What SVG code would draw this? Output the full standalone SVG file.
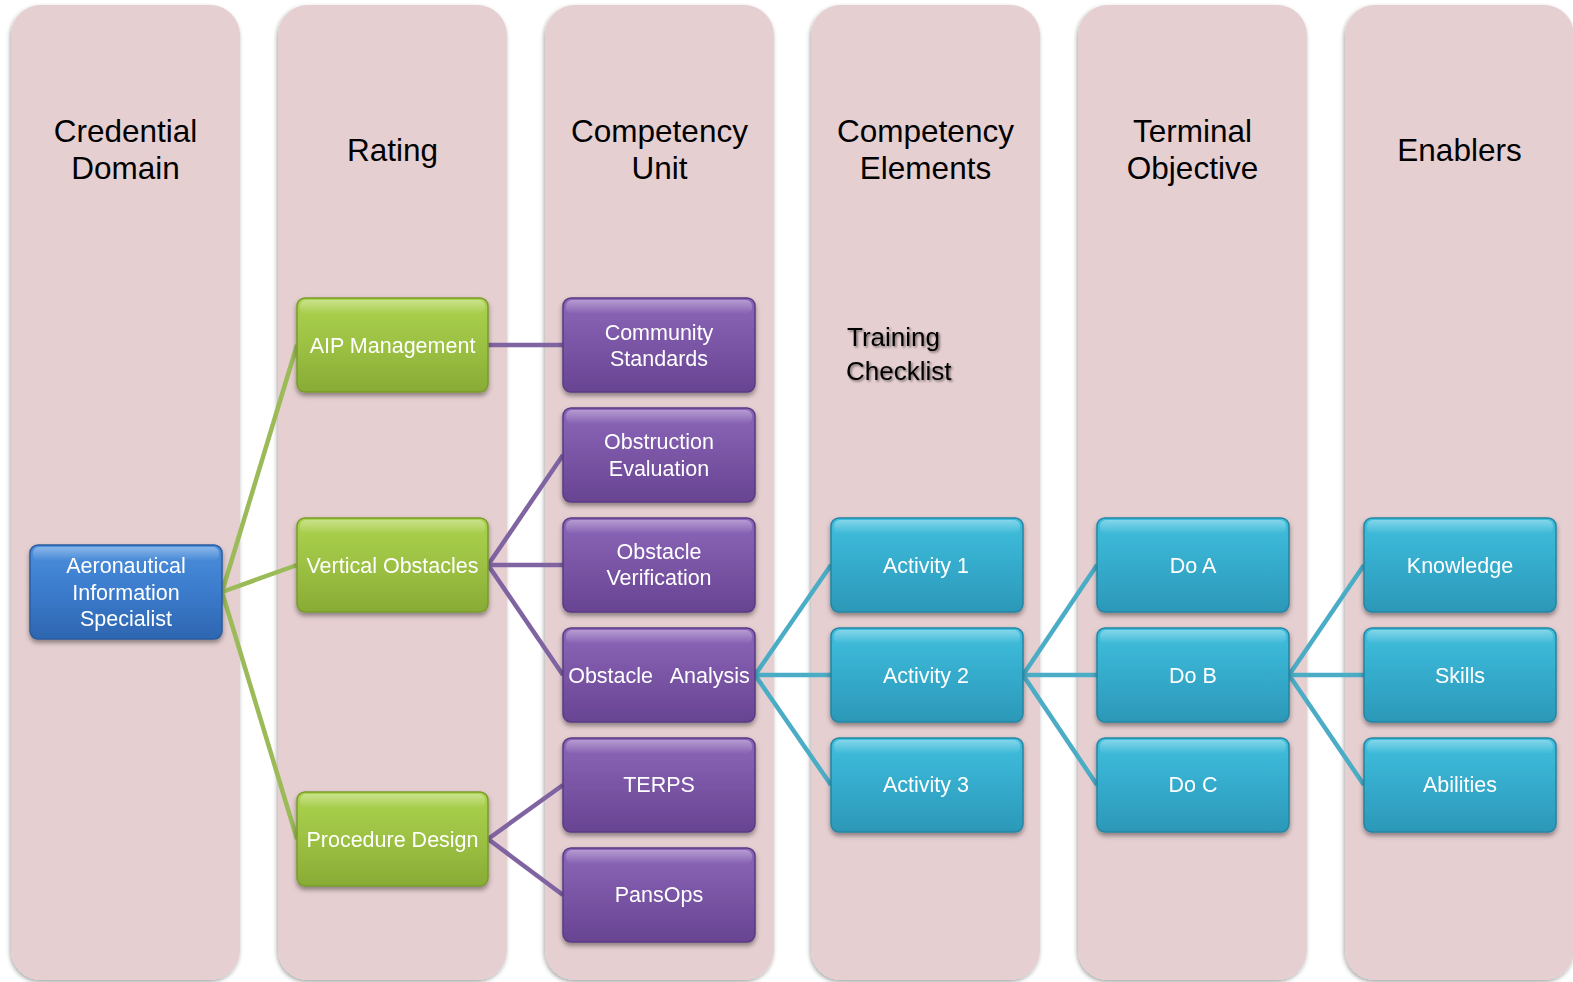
<svg xmlns="http://www.w3.org/2000/svg" width="1573" height="982" viewBox="0 0 1573 982">
<defs>
<filter id="colShadow" x="-10%" y="-5%" width="120%" height="110%">
<feDropShadow dx="-1" dy="2" stdDeviation="2" flood-color="#000" flood-opacity="0.35"/>
</filter>
<filter id="nodeShadow" x="-10%" y="-10%" width="120%" height="130%">
<feDropShadow dx="0" dy="3" stdDeviation="2.5" flood-color="#000" flood-opacity="0.4"/>
</filter>
<filter id="textShadow" x="-10%" y="-20%" width="130%" height="150%">
<feDropShadow dx="1.5" dy="1.5" stdDeviation="1.2" flood-color="#000" flood-opacity="0.5"/>
</filter>
<linearGradient id="gBlue" x1="0" y1="0" x2="0" y2="1">
<stop offset="0" stop-color="#4b8fdc"/>
<stop offset="0.5" stop-color="#3b7bcc"/>
<stop offset="1" stop-color="#2e66b0"/>
</linearGradient>
<linearGradient id="gGreen" x1="0" y1="0" x2="0" y2="1">
<stop offset="0" stop-color="#acd34e"/>
<stop offset="0.5" stop-color="#9cc143"/>
<stop offset="1" stop-color="#88ab35"/>
</linearGradient>
<linearGradient id="gPurple" x1="0" y1="0" x2="0" y2="1">
<stop offset="0" stop-color="#8d66b9"/>
<stop offset="0.5" stop-color="#7a55a5"/>
<stop offset="1" stop-color="#684493"/>
</linearGradient>
<linearGradient id="gCyan" x1="0" y1="0" x2="0" y2="1">
<stop offset="0" stop-color="#40c0de"/>
<stop offset="0.5" stop-color="#35abcc"/>
<stop offset="1" stop-color="#2c98b8"/>
</linearGradient>
<linearGradient id="gloss" x1="0" y1="0" x2="0" y2="1">
<stop offset="0" stop-color="#fff" stop-opacity="0.35"/>
<stop offset="1" stop-color="#fff" stop-opacity="0"/>
</linearGradient>
</defs>
<style>
.col{fill:#e6cfd1;filter:url(#colShadow)}
.hdr{font-family:"Liberation Sans",Arial,sans-serif;font-size:31.5px;fill:#000;text-anchor:middle}
.nt{font-family:"Liberation Sans",Arial,sans-serif;font-size:21.5px;fill:#fff;text-anchor:middle}
.node{filter:url(#nodeShadow)}
.blue{fill:url(#gBlue);stroke:#2a5c9e;stroke-width:1.5}
.green{fill:url(#gGreen);stroke:#7a9a2e;stroke-width:1.5}
.purple{fill:url(#gPurple);stroke:#5a3a82;stroke-width:1.5}
.cyan{fill:url(#gCyan);stroke:#2585a3;stroke-width:1.5}
.gl{fill:url(#gloss)}
.cg{stroke:#9bbb59;stroke-width:4.5;fill:none}
.cp{stroke:#8064a2;stroke-width:4.5;fill:none}
.cc{stroke:#4bacc6;stroke-width:4.5;fill:none}
.tc{font-family:"Liberation Sans",Arial,sans-serif;font-size:26px;fill:#000;filter:url(#textShadow)}
</style>

<g id="columns">
<rect class="col" x="11" y="5" width="229" height="975" rx="30"/>
<rect class="col" x="278" y="5" width="229" height="975" rx="30"/>
<rect class="col" x="545" y="5" width="229" height="975" rx="30"/>
<rect class="col" x="811" y="5" width="229" height="975" rx="30"/>
<rect class="col" x="1078" y="5" width="229" height="975" rx="30"/>
<rect class="col" x="1345" y="5" width="229" height="975" rx="30"/>
<text class="hdr" x="125.5"><tspan x="125.5" y="142">Credential</tspan><tspan x="125.5" y="179">Domain</tspan></text>
<text class="hdr" x="392.5" y="161">Rating</text>
<text class="hdr"><tspan x="659.5" y="142">Competency</tspan><tspan x="659.5" y="179">Unit</tspan></text>
<text class="hdr"><tspan x="925.5" y="142">Competency</tspan><tspan x="925.5" y="179">Elements</tspan></text>
<text class="hdr"><tspan x="1192.5" y="142">Terminal</tspan><tspan x="1192.5" y="179">Objective</tspan></text>
<text class="hdr" x="1459.5" y="161">Enablers</text>
</g>

<g id="training-checklist">
<text class="tc"><tspan x="847" y="346">Training</tspan><tspan x="846" y="380">Checklist</tspan></text>
</g>

<g id="connectors">
<line class="cg" x1="222" y1="592" x2="297" y2="345"/>
<line class="cg" x1="222" y1="592" x2="297" y2="565"/>
<line class="cg" x1="222" y1="592" x2="297" y2="839"/>
<line class="cp" x1="488" y1="345" x2="563" y2="345"/>
<line class="cp" x1="488" y1="565" x2="563" y2="455"/>
<line class="cp" x1="488" y1="565" x2="563" y2="565"/>
<line class="cp" x1="488" y1="565" x2="563" y2="675"/>
<line class="cp" x1="488" y1="839" x2="563" y2="785"/>
<line class="cp" x1="488" y1="839" x2="563" y2="895"/>
<line class="cc" x1="755" y1="675" x2="831" y2="565"/>
<line class="cc" x1="755" y1="675" x2="831" y2="675"/>
<line class="cc" x1="755" y1="675" x2="831" y2="785"/>
<line class="cc" x1="1023" y1="675" x2="1097" y2="565"/>
<line class="cc" x1="1023" y1="675" x2="1097" y2="675"/>
<line class="cc" x1="1023" y1="675" x2="1097" y2="785"/>
<line class="cc" x1="1289" y1="675" x2="1364" y2="565"/>
<line class="cc" x1="1289" y1="675" x2="1364" y2="675"/>
<line class="cc" x1="1289" y1="675" x2="1364" y2="785"/>
</g>

<g id="n-ais" class="node"><rect class="blue" x="30" y="545" width="192" height="94" rx="8"/><rect class="gl" x="33" y="547" width="186" height="14" rx="6"/>
<text class="nt"><tspan x="126" y="573">Aeronautical</tspan><tspan x="126" y="599.5">Information</tspan><tspan x="126" y="626">Specialist</tspan></text></g>

<g id="n-aip" class="node"><rect class="green" x="297" y="298" width="191" height="94" rx="8"/><rect class="gl" x="300" y="300" width="185" height="14" rx="6"/>
<text class="nt" x="392.5" y="352.5">AIP Management</text></g>
<g id="n-vo" class="node"><rect class="green" x="297" y="518" width="191" height="94" rx="8"/><rect class="gl" x="300" y="520" width="185" height="14" rx="6"/>
<text class="nt" x="392.5" y="572.5">Vertical Obstacles</text></g>
<g id="n-pd" class="node"><rect class="green" x="297" y="792" width="191" height="94" rx="8"/><rect class="gl" x="300" y="794" width="185" height="14" rx="6"/>
<text class="nt" x="392.5" y="846.5">Procedure Design</text></g>

<g id="n-cs" class="node"><rect class="purple" x="563" y="298" width="192" height="94" rx="8"/><rect class="gl" x="566" y="300" width="186" height="14" rx="6"/>
<text class="nt"><tspan x="659" y="339.5">Community</tspan><tspan x="659" y="366">Standards</tspan></text></g>
<g id="n-oe" class="node"><rect class="purple" x="563" y="408" width="192" height="94" rx="8"/><rect class="gl" x="566" y="410" width="186" height="14" rx="6"/>
<text class="nt"><tspan x="659" y="449">Obstruction</tspan><tspan x="659" y="476">Evaluation</tspan></text></g>
<g id="n-ov" class="node"><rect class="purple" x="563" y="518" width="192" height="94" rx="8"/><rect class="gl" x="566" y="520" width="186" height="14" rx="6"/>
<text class="nt"><tspan x="659" y="559">Obstacle</tspan><tspan x="659" y="585">Verification</tspan></text></g>
<g id="n-oa" class="node"><rect class="purple" x="563" y="628" width="192" height="94" rx="8"/><rect class="gl" x="566" y="630" width="186" height="14" rx="6"/>
<text class="nt" x="659" y="682.5" style="white-space:pre">Obstacle   Analysis</text></g>
<g id="n-terps" class="node"><rect class="purple" x="563" y="738" width="192" height="94" rx="8"/><rect class="gl" x="566" y="740" width="186" height="14" rx="6"/>
<text class="nt" x="659" y="791.5">TERPS</text></g>
<g id="n-pansops" class="node"><rect class="purple" x="563" y="848" width="192" height="94" rx="8"/><rect class="gl" x="566" y="850" width="186" height="14" rx="6"/>
<text class="nt" x="659" y="901.5">PansOps</text></g>

<g id="n-act1" class="node"><rect class="cyan" x="831" y="518" width="192" height="94" rx="8"/><rect class="gl" x="834" y="520" width="186" height="14" rx="6"/>
<text class="nt" x="926" y="572.5">Activity 1</text></g>
<g id="n-act2" class="node"><rect class="cyan" x="831" y="628" width="192" height="94" rx="8"/><rect class="gl" x="834" y="630" width="186" height="14" rx="6"/>
<text class="nt" x="926" y="682.5">Activity 2</text></g>
<g id="n-act3" class="node"><rect class="cyan" x="831" y="738" width="192" height="94" rx="8"/><rect class="gl" x="834" y="740" width="186" height="14" rx="6"/>
<text class="nt" x="926" y="791.5">Activity 3</text></g>

<g id="n-doa" class="node"><rect class="cyan" x="1097" y="518" width="192" height="94" rx="8"/><rect class="gl" x="1100" y="520" width="186" height="14" rx="6"/>
<text class="nt" x="1193" y="572.5">Do A</text></g>
<g id="n-dob" class="node"><rect class="cyan" x="1097" y="628" width="192" height="94" rx="8"/><rect class="gl" x="1100" y="630" width="186" height="14" rx="6"/>
<text class="nt" x="1193" y="682.5">Do B</text></g>
<g id="n-doc" class="node"><rect class="cyan" x="1097" y="738" width="192" height="94" rx="8"/><rect class="gl" x="1100" y="740" width="186" height="14" rx="6"/>
<text class="nt" x="1193" y="791.5">Do C</text></g>

<g id="n-knowledge" class="node"><rect class="cyan" x="1364" y="518" width="192" height="94" rx="8"/><rect class="gl" x="1367" y="520" width="186" height="14" rx="6"/>
<text class="nt" x="1460" y="572.5">Knowledge</text></g>
<g id="n-skills" class="node"><rect class="cyan" x="1364" y="628" width="192" height="94" rx="8"/><rect class="gl" x="1367" y="630" width="186" height="14" rx="6"/>
<text class="nt" x="1460" y="682.5">Skills</text></g>
<g id="n-abilities" class="node"><rect class="cyan" x="1364" y="738" width="192" height="94" rx="8"/><rect class="gl" x="1367" y="740" width="186" height="14" rx="6"/>
<text class="nt" x="1460" y="791.5">Abilities</text></g>
</svg>
